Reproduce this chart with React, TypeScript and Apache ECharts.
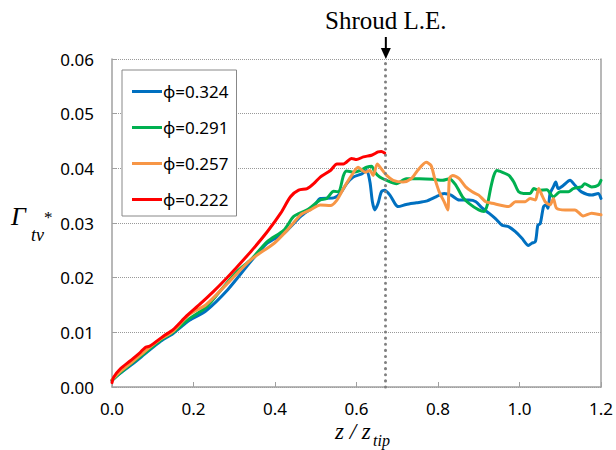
import React, { useEffect, useRef } from "react";
import * as echarts from "echarts";

// z / z_tip positions and Γ_tv* values
const blueZ = [0, 0.02, 0.05, 0.08, 0.12, 0.15, 0.19, 0.23, 0.284, 0.341, 0.381, 0.422, 0.463, 0.495, 0.511, 0.544, 0.56, 0.576, 0.592, 0.613, 0.625, 0.633, 0.639, 0.645, 0.653, 0.661, 0.669, 0.682, 0.694, 0.702, 0.722, 0.747, 0.771, 0.795, 0.815, 0.832, 0.852, 0.876, 0.893, 0.909, 0.925, 0.941, 0.957, 0.974, 0.99, 1.006, 1.022, 1.03, 1.039, 1.045, 1.051, 1.059, 1.065, 1.07, 1.075, 1.083, 1.089, 1.095, 1.108, 1.124, 1.136, 1.152, 1.177, 1.193, 1.2];
const blueG = [0.0012, 0.0025, 0.0042, 0.006, 0.0084, 0.0098, 0.0122, 0.0139, 0.0178, 0.023, 0.0263, 0.0281, 0.0312, 0.033, 0.0345, 0.0346, 0.0354, 0.0372, 0.0384, 0.039, 0.0396, 0.0375, 0.0339, 0.0324, 0.0336, 0.0357, 0.036, 0.0351, 0.0336, 0.033, 0.0334, 0.0337, 0.034, 0.0348, 0.0354, 0.0351, 0.0342, 0.0342, 0.0339, 0.0327, 0.0318, 0.0308, 0.0296, 0.0293, 0.0284, 0.0272, 0.0259, 0.0263, 0.0266, 0.0296, 0.0299, 0.033, 0.0333, 0.0327, 0.0354, 0.0366, 0.0375, 0.0363, 0.0369, 0.0378, 0.0369, 0.0357, 0.0351, 0.0354, 0.0345];

const greenZ = [0, 0.02, 0.05, 0.08, 0.12, 0.15, 0.19, 0.23, 0.268, 0.308, 0.341, 0.381, 0.422, 0.446, 0.479, 0.511, 0.527, 0.544, 0.556, 0.568, 0.576, 0.592, 0.609, 0.625, 0.637, 0.645, 0.657, 0.674, 0.698, 0.722, 0.755, 0.787, 0.811, 0.828, 0.844, 0.86, 0.876, 0.9, 0.913, 0.921, 0.929, 0.937, 0.945, 0.957, 0.974, 0.986, 0.998, 1.01, 1.026, 1.035, 1.047, 1.067, 1.083, 1.1, 1.12, 1.132, 1.152, 1.16, 1.177, 1.193, 1.2];
const greenG = [0.0012, 0.0026, 0.0044, 0.0062, 0.0086, 0.01, 0.0125, 0.0145, 0.0178, 0.0212, 0.0233, 0.0266, 0.0287, 0.0312, 0.0324, 0.0342, 0.0345, 0.0358, 0.0357, 0.0387, 0.0395, 0.0393, 0.0396, 0.0402, 0.0404, 0.0393, 0.0384, 0.0378, 0.0372, 0.0381, 0.0381, 0.038, 0.0378, 0.0381, 0.0369, 0.0348, 0.0336, 0.0324, 0.0321, 0.0333, 0.0363, 0.0387, 0.0396, 0.0393, 0.0387, 0.0375, 0.0357, 0.0354, 0.0354, 0.0363, 0.036, 0.0361, 0.0348, 0.0357, 0.0357, 0.0363, 0.0366, 0.0372, 0.0366, 0.0369, 0.0378];

const orangeZ = [0, 0.02, 0.05, 0.08, 0.12, 0.15, 0.19, 0.23, 0.284, 0.341, 0.398, 0.43, 0.463, 0.487, 0.511, 0.536, 0.552, 0.568, 0.588, 0.604, 0.621, 0.633, 0.641, 0.651, 0.661, 0.674, 0.69, 0.714, 0.734, 0.75, 0.771, 0.783, 0.791, 0.803, 0.815, 0.824, 0.828, 0.836, 0.852, 0.868, 0.884, 0.9, 0.917, 0.933, 0.974, 0.99, 1.014, 1.026, 1.039, 1.047, 1.055, 1.063, 1.075, 1.083, 1.091, 1.112, 1.136, 1.156, 1.177, 1.2];
const orangeG = [0.0013, 0.0028, 0.0046, 0.0065, 0.0088, 0.0102, 0.0133, 0.015, 0.019, 0.0233, 0.0263, 0.0287, 0.0315, 0.0324, 0.0333, 0.0332, 0.0342, 0.0363, 0.0387, 0.0402, 0.0393, 0.0396, 0.0387, 0.0408, 0.0399, 0.0387, 0.0378, 0.0375, 0.0381, 0.0396, 0.0411, 0.0405, 0.0384, 0.0357, 0.0339, 0.0324, 0.0381, 0.0387, 0.0381, 0.0366, 0.0357, 0.0351, 0.0339, 0.0336, 0.033, 0.0339, 0.0339, 0.0345, 0.0342, 0.0363, 0.0351, 0.0339, 0.0333, 0.0345, 0.0327, 0.0324, 0.0324, 0.0313, 0.0318, 0.0315];

const redZ = [0, 0.004, 0.02, 0.045, 0.069, 0.081, 0.093, 0.126, 0.15, 0.183, 0.215, 0.248, 0.28, 0.3, 0.341, 0.381, 0.414, 0.438, 0.458, 0.479, 0.495, 0.511, 0.536, 0.552, 0.568, 0.588, 0.6, 0.617, 0.637, 0.653, 0.661, 0.669];
const redG = [0.0008, 0.0018, 0.0033, 0.0048, 0.0063, 0.0072, 0.0075, 0.0093, 0.0105, 0.013, 0.0151, 0.0174, 0.0198, 0.0214, 0.0248, 0.0284, 0.0318, 0.0348, 0.036, 0.0363, 0.0372, 0.0384, 0.0396, 0.0408, 0.0408, 0.0418, 0.0416, 0.0421, 0.0424, 0.043, 0.0431, 0.0428];

const seriesNames = ["ϕ=0.324", "ϕ=0.291", "ϕ=0.257", "ϕ=0.222"];
const seriesColors = ["#0070C0", "#00B050", "#F79646", "#FF0000"];
const shroudZ = 0.672;
const shroudLabel = "Shroud L.E.";

const zip = (zs: number[], gs: number[]) => zs.map((z, i) => [z, gs[i]]);

export default function App() {
  const ref = useRef<HTMLDivElement>(null);
  useEffect(() => {
    if (!ref.current) return;
    const chart = echarts.init(ref.current, null, { renderer: "svg" });
    const sans = "'Noto Sans', 'Open Sans', sans-serif";
    const serif = "'Liberation Serif', 'DejaVu Serif', serif";
    const datasets = [zip(blueZ, blueG), zip(greenZ, greenG), zip(orangeZ, orangeG), zip(redZ, redG)];
    chart.setOption({
      animation: false,
      backgroundColor: "#fff",
      grid: { left: 112, right: 13, top: 59, bottom: 63 },
      legend: {
        left: 122,
        top: 70,
        orient: "vertical",
        icon: "rect",
        itemWidth: 30,
        itemHeight: 3,
        itemGap: 19,
        padding: [13, 8, 8, 10],
        borderColor: "#888",
        borderWidth: 1,
        backgroundColor: "#fff",
        textStyle: { fontFamily: sans, fontSize: 17, color: "#000", padding: [0, 0, 0, -4] },
        data: seriesNames,
      },
      xAxis: {
        type: "value",
        min: 0,
        max: 1.2,
        interval: 0.2,
        axisLine: { show: true, lineStyle: { color: "#A0A0A0", width: 1.5 } },
        axisTick: { show: true, inside: true, length: 5, lineStyle: { color: "#A0A0A0" } },
        splitLine: { show: false },
        axisLabel: { fontFamily: sans, fontSize: 17, color: "#000", margin: 13, formatter: (v: number) => v.toFixed(1) },
      },
      yAxis: [
        {
          type: "value",
          min: 0,
          max: 0.06,
          interval: 0.01,
          axisLine: { show: true, lineStyle: { color: "#A0A0A0", width: 1.5 } },
          axisTick: { show: true, inside: true, length: 4, lineStyle: { color: "#A0A0A0" } },
          splitLine: { show: true, lineStyle: { type: "dotted", color: "#999", width: 1 } },
          axisLabel: { fontFamily: sans, fontSize: 17, color: "#000", margin: 18, formatter: (v: number) => v.toFixed(2) },
        },
        {
          type: "value",
          position: "right",
          min: 0,
          max: 0.06,
          interval: 0.01,
          axisLine: { show: true, lineStyle: { color: "#A0A0A0", width: 1.5 } },
          axisTick: { show: false },
          axisLabel: { show: false },
          splitLine: { show: false },
        },
      ],
      series: seriesNames.map((name, i) => ({
        name,
        type: "line",
        data: datasets[i],
        showSymbol: false,
        symbol: "none",
        smooth: 0.25,
        color: seriesColors[i],
        lineStyle: { width: 3, color: seriesColors[i], join: "round", cap: "round" },
        z: 2 + i,
        markLine:
          i === 0
            ? {
                silent: true,
                symbol: "none",
                label: { show: false },
                lineStyle: { type: [0.1, 6], cap: "round", color: "#808080", width: 3 },
                data: [{ xAxis: shroudZ }],
              }
            : undefined,
      })),
    });
    const px = chart.convertToPixel({ xAxisIndex: 0 }, shroudZ) as number;
    const topY = chart.convertToPixel({ yAxisIndex: 0 }, 0.06) as number;
    chart.setOption({
      graphic: [
        {
          type: "text",
          x: px,
          y: 33,
          style: { text: shroudLabel, fontFamily: serif, fontSize: 25, fill: "#000", align: "center", verticalAlign: "bottom" },
        },
        {
          type: "line",
          shape: { x1: px, y1: 37, x2: px, y2: topY - 10 },
          style: { stroke: "#000", lineWidth: 2 },
        },
        {
          type: "polygon",
          shape: { points: [[px - 5, topY - 11], [px + 5, topY - 11], [px, topY]] },
          style: { fill: "#000" },
        },
        {
          type: "text",
          x: 11,
          y: 229,
          style: { text: "Γ", fontFamily: serif, fontStyle: "italic", fontSize: 26, fill: "#000", verticalAlign: "bottom" },
        },
        {
          type: "text",
          x: 31,
          y: 244,
          style: { text: "tv", fontFamily: serif, fontStyle: "italic", fontSize: 18, fill: "#000", verticalAlign: "bottom" },
        },
        {
          type: "text",
          x: 44,
          y: 226,
          style: { text: "*", fontFamily: serif, fontSize: 17, fill: "#000", verticalAlign: "bottom" },
        },
        {
          type: "text",
          x: 335,
          y: 443,
          style: { text: "z / z", fontFamily: serif, fontStyle: "italic", fontSize: 23, fill: "#000", verticalAlign: "bottom" },
        },
        {
          type: "text",
          x: 373,
          y: 448,
          style: { text: "tip", fontFamily: serif, fontStyle: "italic", fontSize: 16, fill: "#000", verticalAlign: "bottom" },
        },
      ],
    });
    return () => chart.dispose();
  }, []);
  return <div ref={ref} style={{ width: 616, height: 450, position: "absolute", left: 0, top: 0 }} />;
}
